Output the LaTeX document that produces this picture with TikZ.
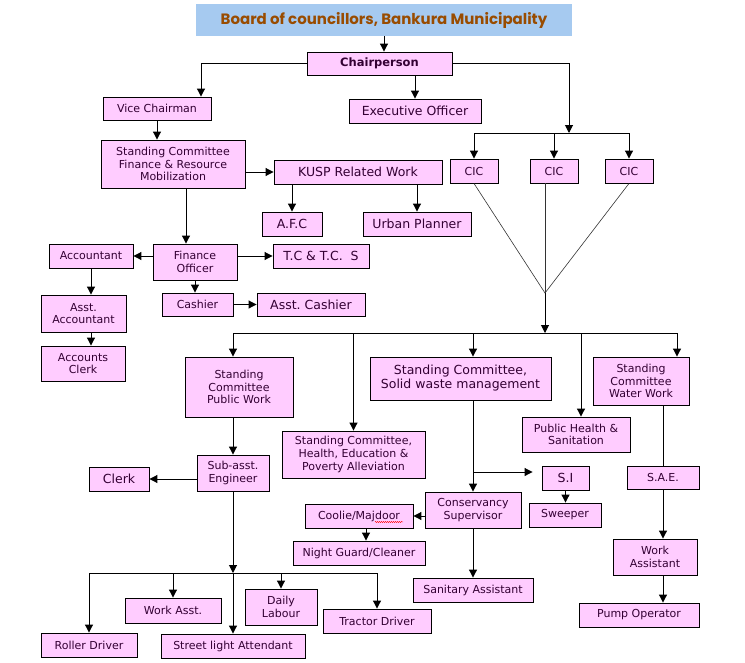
\documentclass[tikz,border=0pt]{standalone}
\usepackage{fontspec}
\setmainfont{DejaVu Sans}
\newfontfamily\titlefont{Poppins}
\usepackage{tikz}
\usetikzlibrary{positioning}
\usetikzlibrary{arrows,arrows.meta}
\usetikzlibrary{decorations.pathmorphing}
\definecolor{boxpink}{RGB}{255,204,255}
\definecolor{boxtext}{RGB}{51,0,51}
\definecolor{titleblue}{RGB}{166,202,240}
\definecolor{titlebrown}{RGB}{153,76,0}
\tikzset{
  box/.style={draw=black, fill=boxpink, text=boxtext, line width=0.9pt, inner sep=0pt, align=center, font=\fontsize{11}{12.7}\selectfont},
  bigbox/.style={box, font=\fontsize{12.5}{14}\selectfont},
  sz/.style 2 args={minimum width=#1pt, minimum height=#2pt},
  arr/.style={-{Triangle[length=8pt,width=8pt]}, line width=1pt},
  link/.style={line width=1pt},
}
\begin{document}
\frenchspacing
\begin{tikzpicture}[x=1pt, y=-1pt]
\useasboundingbox (0,0) rectangle (745,662);
% top of the chart
\node[fill=titleblue, text=titlebrown, font=\titlefont\bfseries\fontsize{15}{18}\selectfont, sz={376}{32}, inner sep=0pt] (board) at (384,20) {Board of councillors, Bankura Municipality};
\node[box, sz={145}{23}, font=\bfseries\fontsize{11.5}{13}\selectfont] (chair) at (379.5,63.5) {Chairperson};
\node[box, sz={108}{23}] (vice) at (157,108.5) {Vice Chairman};
\node[bigbox, sz={132}{24}] (exec) at (415,111) {Executive Officer};
\node[box, sz={48}{24}] (cic1) at (474,171) {CIC};
\node[box, sz={48}{24}] (cic2) at (554,171) {CIC};
\node[box, sz={48}{24}] (cic3) at (629,171) {CIC};
% finance side
\node[box, sz={144}{48}] (scf) at (173,164) {Standing Committee\\Finance \& Resource\\Mobilization};
\node[bigbox, sz={168}{24}] (kusp) at (358,172) {KUSP Related Work};
\node[bigbox, sz={60}{24}] (afc) at (292,224) {A.F.C};
\node[bigbox, sz={108}{24}] (urban) at (417,224) {Urban Planner};
\node[bigbox, sz={96}{24}] (tcs) at (321,256) {T.C \& T.C.\ \ S};
\node[box, sz={84}{36}] (fo) at (195,262) {Finance\\Officer};
\node[box, sz={84}{24}] (acct) at (91,256) {Accountant};
\node[box, sz={71}{23}] (cashier) at (197.5,304.5) {Cashier};
\node[bigbox, sz={108}{23}] (acash) at (311,304.5) {Asst. Cashier};
\node[box, sz={85}{37}] (aacct) at (83.5,313.5) {Asst.\\Accountant};
\node[box, sz={84}{35}] (aclerk) at (83,363.5) {Accounts\\Clerk};
% standing committees
\node[box, sz={108}{60}] (scpw) at (239,387) {Standing\\Committee\\Public Work};
\node[box, sz={143}{47}] (sch) at (353.5,454.5) {Standing Committee,\\Health, Education \&\\Poverty Alleviation};
\node[bigbox, sz={181}{43}] (scsw) at (460.5,378.5) {Standing Committee,\\Solid waste management};
\node[box, sz={108}{35}] (phs) at (576,434.5) {Public Health \&\\Sanitation};
\node[box, sz={96}{48}] (scww) at (641,381) {Standing\\Committee\\Water Work};
% public work
\node[box, sz={72}{36}] (sae) at (233,473) {Sub-asst.\\Engineer};
\node[bigbox, sz={60}{24}] (clerk) at (119,479) {Clerk};
\node[box, sz={96}{24}] (roller) at (89,645) {Roller Driver};
\node[box, sz={96}{25}] (worka) at (173,610.5) {Work Asst.};
\node[box, sz={144}{24}] (street) at (233,646) {Street light Attendant};
\node[box, sz={72}{36}] (daily) at (281,607) {Daily\\Labour};
\node[box, sz={108}{24}] (tractor) at (377,621) {Tractor Driver};
% solid waste
\node[box, sz={108}{24}] (coolie) at (359,516) {Coolie/Majdoor};
\node[box, sz={132}{24}] (night) at (359,553) {Night Guard/Cleaner};
\node[box, sz={96}{36}] (cons) at (473,510) {Conservancy\\Supervisor};
\node[bigbox, sz={47}{24}] (si) at (565.5,478) {S.I};
\node[box, sz={72}{24}] (sweeper) at (565,515) {Sweeper};
\node[box, sz={120}{24}] (sanit) at (473,590) {Sanitary Assistant};
% water work
\node[box, sz={72}{23}] (saee) at (663,477.5) {S.A.E.};
\node[box, sz={84}{36}] (workasst) at (655,557) {Work\\Assistant};
\node[box, sz={120}{24}] (pump) at (639,615) {Pump Operator};

\draw[red, decorate, decoration={snake, amplitude=0.6pt, segment length=2pt}] ([xshift=16pt,yshift=-6pt]coolie.center) -- ([xshift=44pt,yshift=-6pt]coolie.center);

% connectors
\coordinate (vtop) at ([xshift=44pt]vice.north);
\coordinate (cicbus) at (569,133);
\coordinate (cicjoin) at (545,293);
\coordinate (scbus) at (545,333);
\coordinate (labbus) at (233,573);
\coordinate (pwtop) at (sae.north |- scpw.north);
\coordinate (swtop) at (cons.north |- scsw.north);
\coordinate (phtop) at ([xshift=5pt]phs.north);
\coordinate (wwtop) at ([xshift=36pt]scww.north);
\coordinate (fotop) at ([xshift=-9pt]fo.north);
\coordinate (sileft) at ([yshift=6pt]si.west);
\coordinate (cbot) at ([xshift=7pt]coolie.south);

\draw[arr] (board.south) -- (board.south |- chair.north);
\draw[arr] (chair.west) -| (vtop);
\draw[arr] (exec.north |- chair.south) -- (exec.north);
\draw[arr] (chair.east) -| (cicbus);
\draw[link] (cic1.north |- cicbus) -- (cic3.north |- cicbus);
\foreach \c in {cic1,cic2,cic3}
  \draw[arr] (\c.north |- cicbus) -- (\c.north);
\draw[black!80, line width=0.6pt] (cic1.south) -- (cicjoin) -- (cic3.south);
\draw[black!80, line width=0.6pt] (cicjoin |- cic2.south) -- (cicjoin);
\draw[arr] (cicjoin) -- (scbus);
\draw[link] (pwtop |- scbus) -- (wwtop |- scbus);
\foreach \t in {pwtop, sch.north, swtop, phtop, wwtop}
  \draw[arr] (\t |- scbus) -- (\t);

\draw[arr] (vice.south) -- (vice.south |- scf.north);
\draw[arr] (scf.east |- kusp.west) -- (kusp.west);
\draw[arr] (afc.north |- kusp.south) -- (afc.north);
\draw[arr] (urban.north |- kusp.south) -- (urban.north);
\draw[arr] (fotop |- scf.south) -- (fotop);
\draw[arr] (fo.west |- acct.east) -- (acct.east);
\draw[arr] (fo.east |- tcs.west) -- (tcs.west);
\draw[arr] (fo.south) -- (fo.south |- cashier.north);
\draw[arr] (cashier.east) -- (acash.west);
\draw[arr] (acct.south) -- (acct.south |- aacct.north);
\draw[arr] (acct.south |- aacct.south) -- (acct.south |- aclerk.north);

\draw[arr] (sae.north |- scpw.south) -- (sae.north);
\draw[arr] (sae.west |- clerk.east) -- (clerk.east);
\draw[arr] (sae.south) -- (labbus);
\draw[link] (roller.north |- labbus) -- (tractor.north |- labbus);
\foreach \n in {roller, worka, street, daily, tractor}
  \draw[arr] (\n.north |- labbus) -- (\n.north);

\draw[arr] (cons.north |- scsw.south) -- (cons.north);
\draw[arr, shorten >=9pt] (cons.north |- sileft) -- (sileft);
\draw[arr] (cons.west |- coolie.east) -- (coolie.east);
\draw[arr] (cbot) -- (cbot |- night.north);
\draw[arr] (si.south) -- (si.south |- sweeper.north);
\draw[arr] (cons.south) -- (sanit.north);

\draw[link] (saee.north |- scww.south) -- (saee.north);
\draw[arr] (saee.south) -- (saee.south |- workasst.north);
\draw[arr] (saee.south |- workasst.south) -- (saee.south |- pump.north);
\end{tikzpicture}
\end{document}
